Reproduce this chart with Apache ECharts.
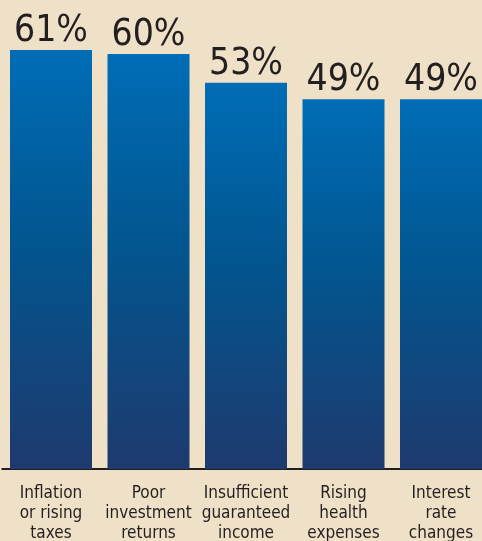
<!DOCTYPE html>
<html>
<head>
<meta charset="utf-8">
<script src="https://cdn.jsdelivr.net/npm/echarts@6/dist/echarts.min.js"></script>
<style>
html,body{margin:0;padding:0;background:#efe1c7;}
#c{width:482px;height:541px;}
</style>
</head>
<body>
<div id="c"></div>
<script>
const categories = ['Inflation\nor rising\ntaxes', 'Poor\ninvestment\nreturns', 'Insufficient\nguaranteed\nincome', 'Rising\nhealth\nexpenses', 'Interest\nrate\nchanges'];
const values = [61, 60, 53, 49, 49];

const FONT = "'Liberation Sans Narrow', 'DejaVu Sans Condensed', Roboto, sans-serif";
const chart = echarts.init(document.getElementById('c'));
chart.setOption({
  backgroundColor: '#efe1c7',
  animation: false,
  grid: { left: 2.25, width: 487.5, top: 50, height: 419, containLabel: false, outerBoundsMode: 'none' },
  xAxis: {
    type: 'category',
    data: categories,
    axisTick: { show: false },
    axisLine: { onZero: false, lineStyle: { color: '#231f20', width: 2 } },
    axisLabel: {
      interval: 0,
      margin: 15,
      fontFamily: FONT,
      fontSize: 17,
      lineHeight: 20,
      color: '#231f20'
    }
  },
  yAxis: {
    type: 'value',
    min: -41,
    max: 61,
    startValue: -41,
    show: false,
    splitLine: { show: false }
  },
  series: [{
    type: 'bar',
    data: values,
    barWidth: 82,
    itemStyle: {
      color: new echarts.graphic.LinearGradient(0, 0, 0, 1, [
        { offset: 0, color: '#006db6' },
        { offset: 0.45, color: '#025690' },
        { offset: 1, color: '#1e3a6e' }
      ], false)
    },
    label: {
      show: true,
      position: 'top',
      distance: 0,
      formatter: '{c}%',
      fontFamily: FONT,
      fontSize: 37,
      color: '#231f20'
    }
  }]
});
</script>
</body>
</html>
